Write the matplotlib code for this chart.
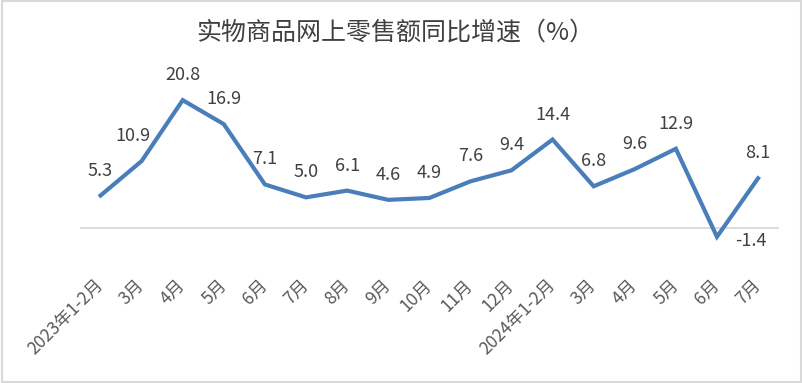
import matplotlib
matplotlib.use("Agg")
import matplotlib.pyplot as plt
from matplotlib.patches import Rectangle

plt.rcParams['font.family'] = ['Noto Sans CJK SC', 'DejaVu Sans']

categories = ["2023年1-2月", "3月", "4月", "5月", "6月", "7月", "8月", "9月", "10月",
              "11月", "12月", "2024年1-2月", "3月", "4月", "5月", "6月", "7月"]
values = [5.3, 10.9, 20.8, 16.9, 7.1, 5.0, 6.1, 4.6, 4.9, 7.6, 9.4, 14.4, 6.8, 9.6, 12.9, -1.4, 8.1]
title = "实物商品网上零售额同比增速（%）"

fig = plt.figure(figsize=(8.03, 3.83), dpi=100)
ax = fig.add_axes([0.0996, 0.324, 0.870, 0.482])

x = list(range(len(values)))
ax.plot(x, values, color='#4a7ebb', lw=3.0, solid_joinstyle='miter', zorder=3)
ax.axhline(0, color='#d9d9d9', lw=1.3, zorder=1)

label_dx = {1: -6}
for i, v in enumerate(values):
    if v < 0:
        ax.annotate(f"{v:.1f}", (i, v), xytext=(13, -3), textcoords='offset points',
                    ha='left', va='center', fontsize=13, color='#404040')
    else:
        ax.annotate(f"{v:.1f}", (i, v), xytext=(label_dx.get(i, 0), 18),
                    textcoords='offset points',
                    ha='center', va='center', fontsize=13, color='#404040')

ax.set_xlim(-0.5, len(values) - 0.5)
ax.set_ylim(-5, 25)
ax.set_xticks(x)
ax.set_xticklabels(categories, rotation=45, ha='right', va='center', rotation_mode='anchor',
                   fontsize=12.5, color='#595959')
ax.tick_params(axis='x', length=0, pad=17)
ax.set_yticks([])
for s in ax.spines.values():
    s.set_visible(False)
ax.patch.set_alpha(0)

fig.text(0.492, 0.915, title, ha='center', va='center', fontsize=18, color='#404040')

fig.patches.append(Rectangle((0.002, 0.003), 0.996, 0.994, transform=fig.transFigure,
                             fill=False, edgecolor='#d9d9d9', lw=1.5))

fig.savefig('out.png', dpi=100)
